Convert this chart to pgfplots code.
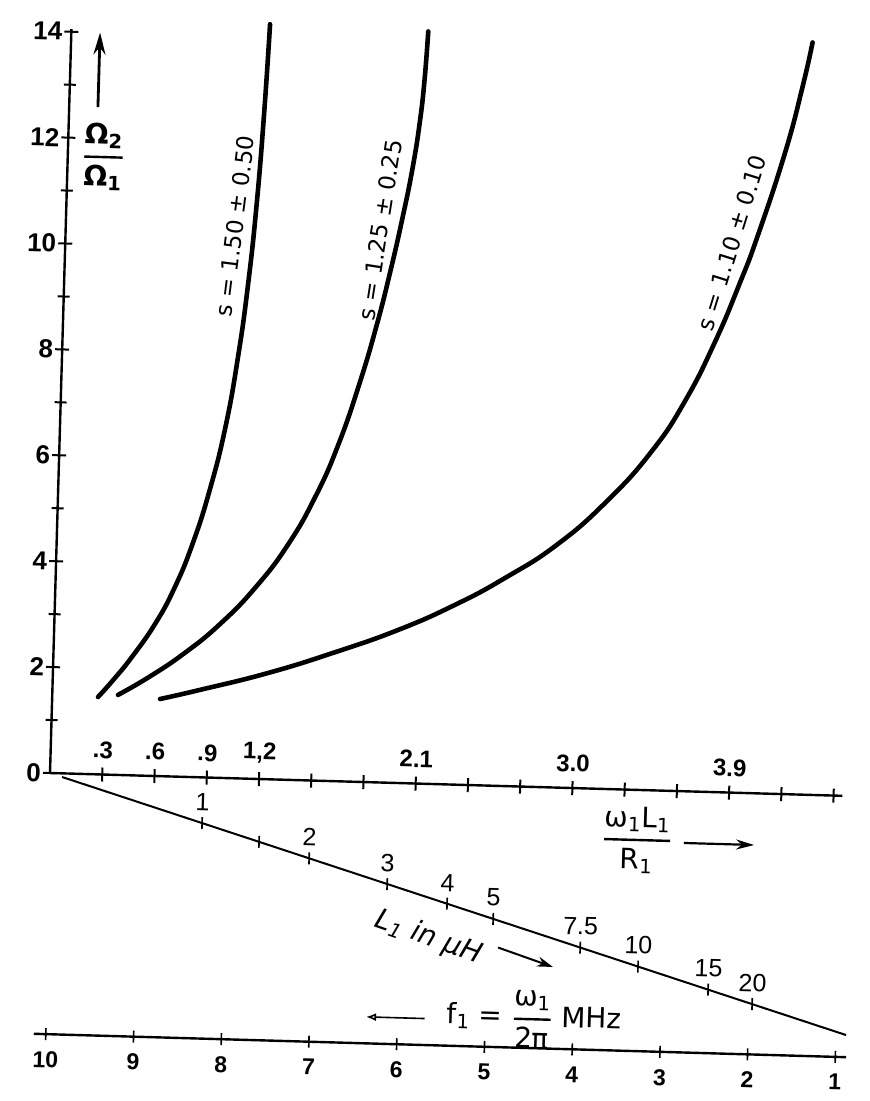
\documentclass[border=0pt]{standalone}
\usepackage{fontspec}
\setmainfont{DejaVu Sans}
\newfontfamily\tickfont{Liberation Sans}
\usepackage{amsmath}
\usepackage{pgfplots}
\usepackage{pgfplotstable}
\pgfplotsset{compat=1.18}
\usetikzlibrary{arrows.meta}

\pgfplotstableread{
u v
0.263 1.46
0.35 1.80
0.45 2.23
0.58 2.88
0.685 3.57
0.78 4.40
0.87 5.43
0.95 6.63
1.01 7.95
1.055 9.30
1.092 10.85
1.12 12.59
1.139 14.25
}\curveA

\pgfplotstableread{
u v
0.377 1.51
0.55 1.86
0.75 2.33
0.95 2.90
1.15 3.62
1.33 4.45
1.48 5.38
1.60 6.35
1.71 7.50
1.80 8.62
1.87 9.65
1.93 10.65
1.98 11.60
2.015 12.50
2.035 13.30
2.048 14.20
}\curveB

\pgfplotstableread{
u v
0.619 1.456
0.847 1.65
1.229 2.00
1.604 2.42
1.975 2.89
2.30 3.40
2.58 3.93
2.87 4.58
3.15 5.43
3.40 6.40
3.585 7.38
3.745 8.50
3.875 9.60
3.97 10.50
4.115 12.10
4.205 13.36
4.255 14.20
}\curveC

\pgfplotstableread{
u v lab
0.881 -0.863 1
1.501 -1.469 2
1.953 -1.912 3
2.300 -2.251 4
2.567 -2.512 5
3.071 -3.005 7.5
3.406 -3.333 10
3.812 -3.730 15
4.067 -3.980 20
}\Ltab

\pgfplotstableread{
u v lab
0.019 -4.93 10
0.523 -4.93 9
1.027 -4.93 8
1.530 -4.93 7
2.034 -4.93 6
2.538 -4.93 5
3.042 -4.93 4
3.546 -4.93 3
4.049 -4.93 2
4.553 -4.93 1
}\Ftab

\newcommand{\fr}[2]{\genfrac{}{}{1.2pt}{0}{\mbox{#1}}{\mbox{#2}}}

\begin{document}
\begin{tikzpicture}
% page frame (the reference scan is 870 x 1101 px, origin of the axes at px (50,773))
\path (-25pt,386.5pt) rectangle (410pt,-164pt);
\begin{axis}[
  at={(0,0)}, anchor=origin,
  x={(87.064pt,-2.508pt)}, y={(0.7625pt,26.474pt)},
  xmin=0, xmax=4.55, ymin=0, ymax=14.05,
  axis lines=left,
  axis line style={-, line width=1.2pt},
  clip=false,
  xtick={0.3,0.6,0.9,1.2,1.5,1.8,2.1,2.4,2.7,3.0,3.3,3.6,3.9,4.2,4.5},
  xticklabels={.3,.6,.9,{1,2},,,2.1,,,3.0,,,3.9,,},
  ytick={0,2,4,6,8,10,12,14},
  yticklabels={0,2,4,6,8,10,12,14},
  minor ytick={1,3,5,7,9,11,13},
  tick align=center,
  major tick length=7pt,
  minor tick length=6pt,
  every tick/.append style={black, line width=1pt},
  every minor tick/.append style={black, line width=1pt},
  tick label style={font=\tickfont\bfseries\fontsize{13}{15}\selectfont, rotate=-1.65},
  xticklabel style={anchor=south, yshift=8pt, font=\tickfont\bfseries\fontsize{12}{14}\selectfont},
  yticklabel style={anchor=east, xshift=2.5pt},
]
% curves
\addplot[black, line width=2.3pt, line cap=round, smooth, tension=0.8] table[x=u, y=v] {\curveA};
\addplot[black, line width=2.3pt, line cap=round, smooth, tension=0.8] table[x=u, y=v] {\curveB};
\addplot[black, line width=2.3pt, line cap=round, smooth, tension=0.8] table[x=u, y=v] {\curveC};

% curve labels
\node[rotate=82.75, font=\fontsize{11.5}{13}\selectfont] at (axis cs:0.971,10.42) {s = 1.50 ± 0.50};
\node[rotate=81.05, font=\fontsize{11.5}{13}\selectfont] at (axis cs:1.804,10.43) {s = 1.25 ± 0.25};
\node[rotate=72.65, font=\fontsize{11.5}{13}\selectfont] at (axis cs:3.826,10.37) {s = 1.10 ± 0.10};

% y-axis label
\node[rotate=-1.65, font=\bfseries\fontsize{14}{16}\selectfont] at (axis cs:0.205,11.654) {$\fr{Ω\textsubscript{2}}{Ω\textsubscript{1}}$};
\draw[line width=1.4pt, -{Stealth[length=11pt, width=6pt]}] (axis cs:0.165,12.59) -- (axis cs:0.165,14.0);

% x-axis label
\node[rotate=-1.65, font=\fontsize{14}{16}\selectfont] at (axis cs:3.38,-0.945) {$\fr{ω\textsubscript{1}L\textsubscript{1}}{R\textsubscript{1}}$};
\draw[line width=1.1pt, -{Stealth[length=9pt, width=5pt]}] (axis cs:3.649,-0.976) -- (axis cs:4.052,-0.976);

% L1 scale (slanted)
\addplot[black, line width=1pt] coordinates {(0.07,-0.069) (4.611,-4.512)};
\addplot[black, only marks, mark=|, mark size=3pt, mark options={line width=0.8pt, rotate=-1.65}] coordinates {(1.211,-1.186)};
\addplot[black, only marks, mark=|, mark size=3pt, mark options={line width=0.8pt, rotate=-1.65},
  nodes near coords, point meta=explicit symbolic,
  every node near coord/.append style={font=\tickfont\fontsize{12.5}{14}\selectfont, anchor=south, yshift=2.5pt, rotate=-1.65}]
  table[x=u, y=v, meta=lab] {\Ltab};
\node[rotate=-19.65, font=\fontsize{14}{16}\selectfont] at (axis cs:2.20,-2.90) {\textit{L\textsubscript{1} in μH}};
\draw[line width=1pt, -{Stealth[length=8pt, width=5pt]}] (axis cs:2.60,-3.05) -- (axis cs:2.918,-3.387);

% f1 scale (bottom)
\addplot[black, line width=1.2pt] coordinates {(-0.05,-4.93) (4.615,-4.93)};
\addplot[black, only marks, mark=|, mark size=3pt, mark options={line width=0.8pt, rotate=-1.65},
  nodes near coords, point meta=explicit symbolic,
  every node near coord/.append style={font=\tickfont\bfseries\fontsize{11.5}{13}\selectfont, anchor=north, yshift=-5pt, rotate=-1.65}]
  table[x=u, y=v, meta=lab] {\Ftab};
\draw[line width=0.8pt, -{Latex[length=5pt, width=4pt, open]}] (axis cs:2.19,-4.43) -- (axis cs:1.854,-4.43);
\node[rotate=-1.65, font=\fontsize{14}{16}\selectfont] at (axis cs:2.82,-4.40) {f\textsubscript{1} = $\fr{ω\textsubscript{1}}{2π}$ MHz};
\end{axis}
\end{tikzpicture}
\end{document}
